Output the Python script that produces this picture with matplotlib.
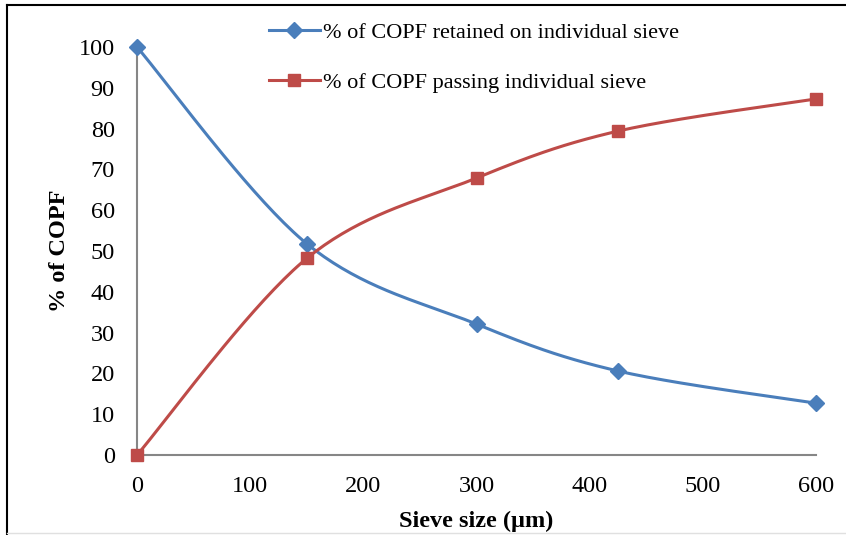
import numpy as np
import matplotlib
matplotlib.use('Agg')
import matplotlib.pyplot as plt
from matplotlib.lines import Line2D

plt.rcParams['font.family'] = ['Liberation Serif', 'DejaVu Serif']

# data
sieve = [0, 150, 300, 425, 600]
retained = [100, 51.8, 32.1, 20.6, 12.7]
passing = [0, 48.2, 67.9, 79.4, 87.3]
label_ret = '% of COPF retained on individual sieve'
label_pas = '% of COPF passing individual sieve'
xticks = [0, 100, 200, 300, 400, 500, 600]
yticks = list(range(0, 101, 10))

blue = '#4A7EBB'
red = '#BE4B48'


def smooth(xs, ys, n=40):
    # excel-style bezier smoothing through the points
    p = np.column_stack([xs, ys]).astype(float)
    out = [p[0]]
    for i in range(len(p) - 1):
        p0 = p[i - 1] if i > 0 else p[i]
        p1 = p[i]
        p2 = p[i + 1]
        p3 = p[i + 2] if i + 2 < len(p) else p[i + 1]
        c1 = p1 + (p2 - p0) / 6
        c2 = p2 - (p3 - p1) / 6
        t = np.linspace(0, 1, n)[1:, None]
        seg = ((1 - t) ** 3) * p1 + 3 * ((1 - t) ** 2) * t * c1 + 3 * (1 - t) * t ** 2 * c2 + t ** 3 * p2
        out.extend(seg)
    out = np.array(out)
    return out[:, 0], out[:, 1]


fig = plt.figure(figsize=(8.46, 5.35), dpi=100)
ax = fig.add_axes([0.162, 0.1495, 0.8025, 0.7625])

sx, sy = smooth(sieve, retained)
ax.plot(sx, sy, color=blue, lw=2.2, zorder=2)
ax.plot(sieve, retained, ls='none', marker='D', ms=8, color=blue, zorder=3, clip_on=False)
sx, sy = smooth(sieve, passing)
ax.plot(sx, sy, color=red, lw=2.2, zorder=2)
ax.plot(sieve, passing, ls='none', marker='s', ms=8, color=red, zorder=3, clip_on=False)

ax.set_xlim(0, 600)
ax.set_ylim(0, 100)
ax.set_xticks(xticks)
ax.set_yticks(yticks)
ax.tick_params(length=0, labelsize=17.5, pad=15)
ax.tick_params(axis='y', pad=16)
for s in ['top', 'right']:
    ax.spines[s].set_visible(False)
for s in ['left', 'bottom']:
    ax.spines[s].set_color('#868686')
    ax.spines[s].set_linewidth(1.5)

ax.set_xlabel('Sieve size (µm)', fontsize=17.5, fontweight='bold', labelpad=10)
ax.set_ylabel('% of COPF', fontsize=17.5, fontweight='bold', labelpad=6)

handles = [Line2D([], [], color=blue, lw=2.2, marker='D', ms=8),
           Line2D([], [], color=red, lw=2.2, marker='s', ms=8)]
fig.legend(handles, [label_ret, label_pas], loc='upper left',
           bbox_to_anchor=(0.294, 0.996), frameon=False, fontsize=16,
           handlelength=2.3, handletextpad=0.15, labelspacing=1.35)

# outer frame of the original figure
fig.add_artist(Line2D([0.008, 0.008], [0.0, 0.99], color='black', lw=1.5, transform=fig.transFigure))
fig.add_artist(Line2D([0.008, 1.0], [0.99, 0.99], color='black', lw=1.5, transform=fig.transFigure))
fig.add_artist(Line2D([0.008, 1.0], [0.004, 0.004], color='#e0e0e0', lw=1, transform=fig.transFigure))

fig.savefig('out.png', dpi=100)
